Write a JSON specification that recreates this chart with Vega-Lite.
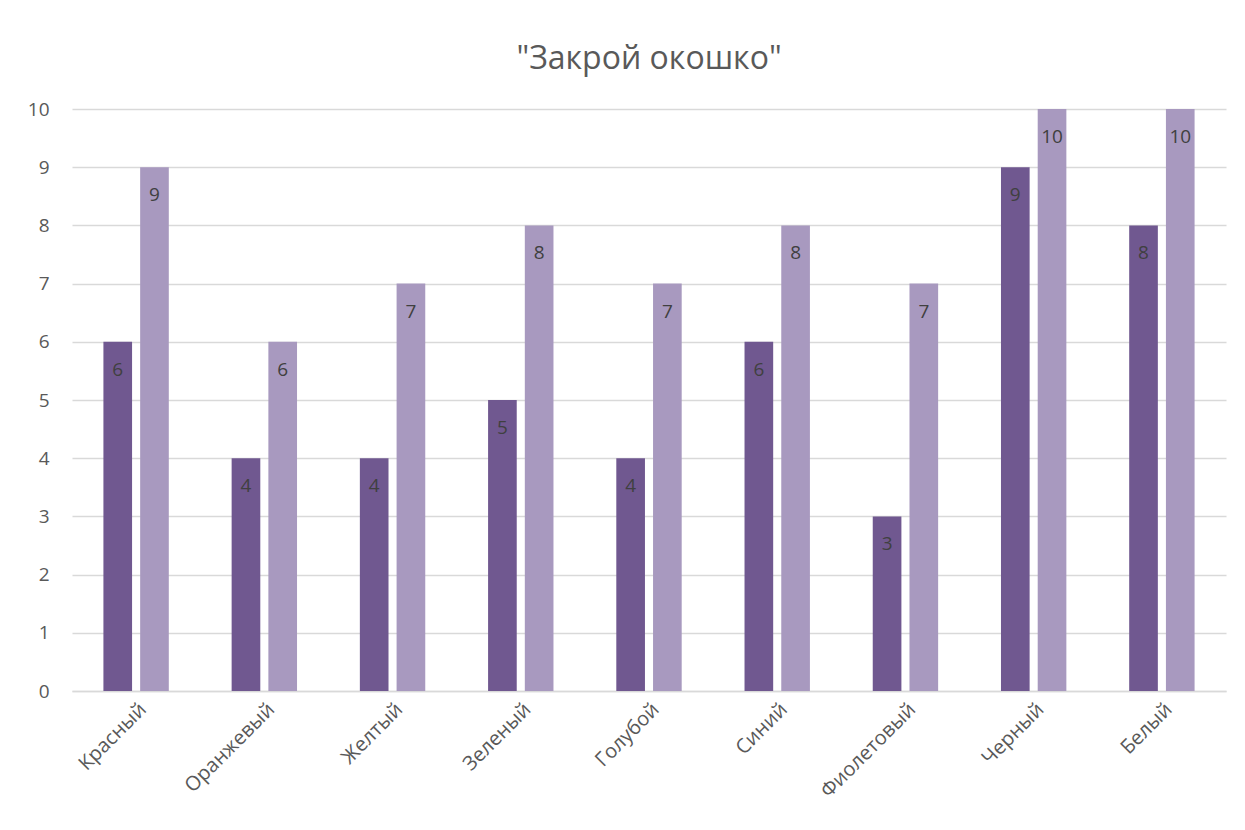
{
  "$schema": "https://vega.github.io/schema/vega-lite/v6.json",
  "width": 1154,
  "height": 582,
  "autosize": {"type": "none"},
  "padding": {"left": 72, "top": 109, "right": 19, "bottom": 139},
  "background": "white",
  "title": {"text": "\"Закрой окошко\"", "fontSize": 32, "font": "Open Sans", "fontWeight": "normal", "color": "#595959", "anchor": "middle", "offset": 24},
  "config": {
    "view": {"stroke": null},
    "font": "Open Sans"
  },
  "data": {"values": [
    {"cat": "Красный", "s": "A", "v": 6}, {"cat": "Красный", "s": "B", "v": 9},
    {"cat": "Оранжевый", "s": "A", "v": 4}, {"cat": "Оранжевый", "s": "B", "v": 6},
    {"cat": "Желтый", "s": "A", "v": 4}, {"cat": "Желтый", "s": "B", "v": 7},
    {"cat": "Зеленый", "s": "A", "v": 5}, {"cat": "Зеленый", "s": "B", "v": 8},
    {"cat": "Голубой", "s": "A", "v": 4}, {"cat": "Голубой", "s": "B", "v": 7},
    {"cat": "Синий", "s": "A", "v": 6}, {"cat": "Синий", "s": "B", "v": 8},
    {"cat": "Фиолетовый", "s": "A", "v": 3}, {"cat": "Фиолетовый", "s": "B", "v": 7},
    {"cat": "Черный", "s": "A", "v": 9}, {"cat": "Черный", "s": "B", "v": 10},
    {"cat": "Белый", "s": "A", "v": 8}, {"cat": "Белый", "s": "B", "v": 10}
  ]},
  "encoding": {
    "x": {"field": "cat", "type": "nominal", "sort": null, "title": null,
      "scale": {"paddingInner": 0.49, "paddingOuter": 0.245},
      "axis": {"labelAngle": -45, "labelFont": "Open Sans", "labelFontSize": 20, "labelColor": "#595959", "ticks": false, "domain": true, "domainColor": "#d9d9d9", "domainWidth": 1.5, "labelPadding": 8, "labelOverlap": false}},
    "xOffset": {"field": "s", "type": "nominal", "scale": {"paddingInner": 0.22, "paddingOuter": 0}},
    "y": {"field": "v", "type": "quantitative", "title": null,
      "scale": {"domain": [0, 10], "nice": false},
      "axis": {"values": [0,1,2,3,4,5,6,7,8,9,10], "labelFont": "Open Sans", "labelFontSize": 19, "labelColor": "#595959", "labelOverlap": false, "ticks": false, "domain": false, "gridColor": "#d9d9d9", "gridWidth": 1.5, "labelPadding": 23}}
  },
  "layer": [
    {"mark": {"type": "bar"},
     "encoding": {"color": {"field": "s", "type": "nominal", "legend": null,
       "scale": {"domain": ["A", "B"], "range": ["#705890", "#a899bf"]}}}},
    {"mark": {"type": "text", "baseline": "middle", "dy": 28, "fontSize": 19, "font": "Open Sans", "color": "#404040"},
     "encoding": {"text": {"field": "v", "type": "quantitative"}}}
  ]
}
